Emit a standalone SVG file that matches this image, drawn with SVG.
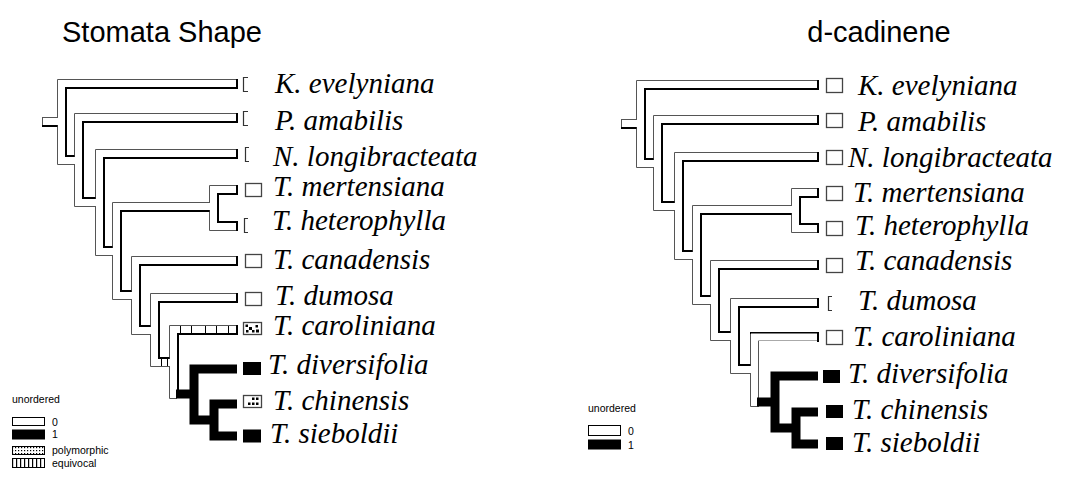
<svg xmlns="http://www.w3.org/2000/svg" width="1068" height="498" viewBox="0 0 1068 498">
  <defs>
    <pattern id="dots" width="3" height="3" patternUnits="userSpaceOnUse">
      <rect width="1.2" height="1.2" fill="#000"/>
    </pattern>
    <pattern id="bars" width="4" height="12" patternUnits="userSpaceOnUse">
      <rect width="1.2" height="12" fill="#000"/>
    </pattern>
  </defs>
  <style>
    .g{fill:none;stroke:#555;stroke-width:1}
    .k{fill:none;stroke:#000;stroke-width:2}
    .w{fill:none;stroke:#fff;stroke-width:7;stroke-linejoin:miter}
    .b{fill:none;stroke:#000;stroke-width:9;stroke-linejoin:miter}
    .tick{fill:none;stroke:#000;stroke-width:1}
    .brk{fill:none;stroke:#333;stroke-width:1.2}
    .box{fill:#fff;stroke:#444;stroke-width:1.3}
    .solid{fill:#000}
    .lab{font-family:"Liberation Serif","Times New Roman",serif;font-style:italic;font-size:29px;fill:#000}
    .ttl{font-family:"Liberation Sans",Arial,sans-serif;font-size:29px;fill:#000}
    .leg{font-family:"Liberation Sans",Arial,sans-serif;font-size:10.5px;fill:#000}
  </style>
  <rect width="1068" height="498" fill="#fff"/>

  <!-- titles -->
  <text class="ttl" x="162" y="42" text-anchor="middle">Stomata Shape</text>
  <text class="ttl" x="879" y="42" text-anchor="middle">d-cadinene</text>

  <!-- ===== left tree: branches ===== -->
  <g id="stomata-connectors">
    <!-- outer (light) edges -->
    <path class="g" d="M42.5,117V127 M42,117.5H57.5
      M57.5,122V79.5H237 M57.5,122V164.5H74.5
      M74.5,160V113.5H237 M74.5,160V206.5H95.5
      M95.5,202V149.5H237 M95.5,202V255.5H112.5
      M112.5,251V202.5H209.5 M112.5,251V299.5H131.5
      M209.5,207V185.5H237 M209.5,207V230.5H237
      M131.5,295V256.5H237 M131.5,295V334.5H150.5
      M150.5,330V293.5H237 M150.5,330V366.5H169.5
      M169.5,362V325.5H237 M169.5,362V398.5H177"/>
    <!-- inner (dark) edges -->
    <path class="k" d="M42,126H57.5
      M66,122V88H237 M66,122V156H74.5
      M83,160V122H237 M83,160V198H95.5
      M104,202V158H237 M104,202V247H112.5
      M121,251V211H209.5 M121,251V291H131.5
      M218,207V194H237 M218,207V222H237
      M140,295V265H237 M140,295V326H150.5
      M159,330V302H237 M159,330V358H169.5
      M178,362V334H237 M178,362V390
      M237,79V89 M237,113V123 M237,149V159 M237,185V195
      M237,221V231 M237,256V266 M237,293V303 M237,325V335"/>
    <!-- tube interiors -->
    <path class="w" d="M43,121.5H62
      M61.5,122V83.5H236 M61.5,122V160.5H79
      M78.5,160V117.5H236 M78.5,160V202.5H100
      M99.5,202V153.5H236 M99.5,202V251.5H117
      M116.5,251V206.5H214 M116.5,251V295.5H136
      M213.5,207V189.5H236 M213.5,207V226.5H236
      M135.5,295V260.5H236 M135.5,295V330.5H155
      M154.5,330V297.5H236 M154.5,330V362.5H174
      M173.5,362V329.5H236 M173.5,362V395"/>
    <!-- equivocal branches -->
    <path class="tick" d="M161.5,359V366 M167.5,359V366
      M180.5,326V334 M191.5,326V334 M205.5,326V334 M216.5,326V334 M228.5,326V334"/>
    <!-- state 1 clade -->
    <path class="b" d="M176,394H194 M237,369H194V420H214 M237,404H214V436H237"/>
  </g>

  <!-- left tree taxa -->
  <g id="s-k-evelyniana"><path class="brk" d="M248,77.5H243.5V91.5H248"/><text class="lab" x="275" y="93">K. evelyniana</text></g>
  <g id="s-p-amabilis"><path class="brk" d="M248,111.5H243.5V125.5H248"/><text class="lab" x="275" y="130">P. amabilis</text></g>
  <g id="s-n-longibracteata"><path class="brk" d="M249,147.5H245.5V161.5H249"/><text class="lab" x="273" y="166">N. longibracteata</text></g>
  <g id="s-t-mertensiana"><rect class="box" x="245.5" y="183.5" width="16" height="13"/><text class="lab" x="273" y="196">T. mertensiana</text></g>
  <g id="s-t-heterophylla"><path class="brk" d="M248,218.5H244.5V232.5H248"/><text class="lab" x="272" y="230">T. heterophylla</text></g>
  <g id="s-t-canadensis"><rect class="box" x="245.5" y="254.5" width="16" height="13"/><text class="lab" x="273" y="269">T. canadensis</text></g>
  <g id="s-t-dumosa"><rect class="box" x="245.5" y="292.5" width="16" height="13"/><text class="lab" x="275" y="305">T. dumosa</text></g>
  <g id="s-t-caroliniana"><rect class="box" x="243.5" y="322.5" width="18" height="12"/>
    <path class="solid" d="M245.5,324.5h2.5v2.5h-2.5z M249,327h3v3h-3z M252,330h2.5v2.5h-2.5z M255.5,325h2.5v2.5h-2.5z M256,329.5h3v3h-3z M246,330h2.5v2.5h-2.5z"/>
    <text class="lab" x="273" y="335">T. caroliniana</text></g>
  <g id="s-t-diversifolia"><rect class="solid" x="243" y="362" width="18" height="13"/><text class="lab" x="268" y="374">T. diversifolia</text></g>
  <g id="s-t-chinensis"><rect class="box" x="243.5" y="395.5" width="18" height="12"/>
    <path class="solid" d="M252,397.5h2.5v2.5h-2.5z M256,397.5h2.5v2.5h-2.5z M248,402.5h2.5v2.5h-2.5z M252,402.5h2.5v2.5h-2.5z M256,402.5h2.5v2.5h-2.5z"/>
    <text class="lab" x="273" y="410">T. chinensis</text></g>
  <g id="s-t-sieboldii"><rect class="solid" x="243" y="429.5" width="18" height="13"/><text class="lab" x="270" y="443">T. sieboldii</text></g>

  <!-- left legend -->
  <g id="s-legend">
    <text class="leg" x="12" y="403">unordered</text>
    <rect x="12.5" y="417.5" width="32" height="8" fill="#fff" stroke="#000" stroke-width="1"/>
    <text class="leg" x="52" y="426">0</text>
    <rect x="12" y="429.5" width="33" height="10" fill="#000"/>
    <text class="leg" x="52" y="438">1</text>
    <rect x="12.5" y="446.5" width="32" height="8" fill="url(#dots)" stroke="#000" stroke-width="1"/>
    <text class="leg" x="52" y="454">polymorphic</text>
    <rect x="12.5" y="458.5" width="32" height="9" fill="url(#bars)" stroke="#000" stroke-width="1"/>
    <text class="leg" x="52" y="467">equivocal</text>
  </g>

  <!-- ===== right tree: branches ===== -->
  <g id="cadinene-connectors">
    <path class="g" d="M621.5,119V129 M621,119.5H636.5
      M636.5,124V80.5H818 M636.5,124V167.5H653.5
      M653.5,163V115.5H818 M653.5,163V210.5H674.5
      M674.5,206V152.5H818 M674.5,206V259.5H692.5
      M692.5,255V205.5H791.5 M692.5,255V304.5H710.5
      M791.5,210V188.5H818 M791.5,210V232.5H818
      M710.5,300V260.5H818 M710.5,300V340.5H730.5
      M730.5,336V298.5H818 M730.5,336V373.5H750.5
      M750.5,369V333 M750.5,369V406.5H759
      M758.5,369V340.5H818 M758.5,369V398"/>
    <path class="k" d="M621,128H636.5
      M645,124V89H818 M645,124V159H653.5
      M662,163V124H818 M662,163V202H674.5
      M683,206V161H818 M683,206V251H692.5
      M701,255V214H791.5 M701,255V296H710.5
      M800,210V197H818 M800,210V224H818
      M719,300V269H818 M719,300V332H730.5
      M739,336V307H818 M739,336V365H750.5
      M750,333H818
      M818,80V90 M818,115V125 M818,152V162 M818,188V198
      M818,223V233 M818,260V270 M818,298V308 M818,332V342"/>
    <path class="w" d="M622,123.5H641
      M640.5,124V84.5H817 M640.5,124V163.5H658
      M657.5,163V119.5H817 M657.5,163V206.5H679
      M678.5,206V156.5H817 M678.5,206V255.5H697
      M696.5,255V209.5H796 M696.5,255V300.5H715
      M795.5,210V192.5H817 M795.5,210V228.5H817
      M714.5,300V264.5H817 M714.5,300V336.5H735
      M734.5,336V302.5H817 M734.5,336V369.5H755
      M754.5,369V337H817 M754.5,369V403"/>
    <path class="b" d="M757,402H775 M818,376H775V428H796 M818,412H796V444H818"/>
  </g>

  <!-- right tree taxa -->
  <g id="c-k-evelyniana"><rect class="box" x="826.5" y="78.5" width="16" height="14"/><text class="lab" x="858" y="95">K. evelyniana</text></g>
  <g id="c-p-amabilis"><rect class="box" x="826.5" y="113.5" width="16" height="14"/><text class="lab" x="858" y="131">P. amabilis</text></g>
  <g id="c-n-longibracteata"><rect class="box" x="826.5" y="150.5" width="16" height="14"/><text class="lab" x="848" y="166.5">N. longibracteata</text></g>
  <g id="c-t-mertensiana"><rect class="box" x="826.5" y="186.5" width="16" height="14"/><text class="lab" x="853" y="202">T. mertensiana</text></g>
  <g id="c-t-heterophylla"><rect class="box" x="826.5" y="221.5" width="16" height="14"/><text class="lab" x="855" y="235">T. heterophylla</text></g>
  <g id="c-t-canadensis"><rect class="box" x="826.5" y="258.5" width="16" height="14"/><text class="lab" x="855" y="270">T. canadensis</text></g>
  <g id="c-t-dumosa"><path class="brk" d="M832,296.5H828.5V310.5H832"/><text class="lab" x="858" y="310">T. dumosa</text></g>
  <g id="c-t-caroliniana"><rect class="box" x="826.5" y="330.5" width="16" height="14"/><text class="lab" x="853" y="346">T. caroliniana</text></g>
  <g id="c-t-diversifolia"><rect class="solid" x="823" y="370" width="17" height="13"/><text class="lab" x="848" y="383">T. diversifolia</text></g>
  <g id="c-t-chinensis"><rect class="solid" x="826" y="405" width="17" height="13"/><text class="lab" x="852" y="419">T. chinensis</text></g>
  <g id="c-t-sieboldii"><rect class="solid" x="826" y="437" width="17" height="13"/><text class="lab" x="852" y="452">T. sieboldii</text></g>

  <!-- right legend -->
  <g id="c-legend">
    <text class="leg" x="588" y="411.5">unordered</text>
    <rect x="588.5" y="425.5" width="32" height="10" fill="#fff" stroke="#000" stroke-width="1"/>
    <text class="leg" x="628" y="435">0</text>
    <rect x="588" y="439.5" width="33" height="10" fill="#000"/>
    <text class="leg" x="628" y="449">1</text>
  </g>
</svg>
